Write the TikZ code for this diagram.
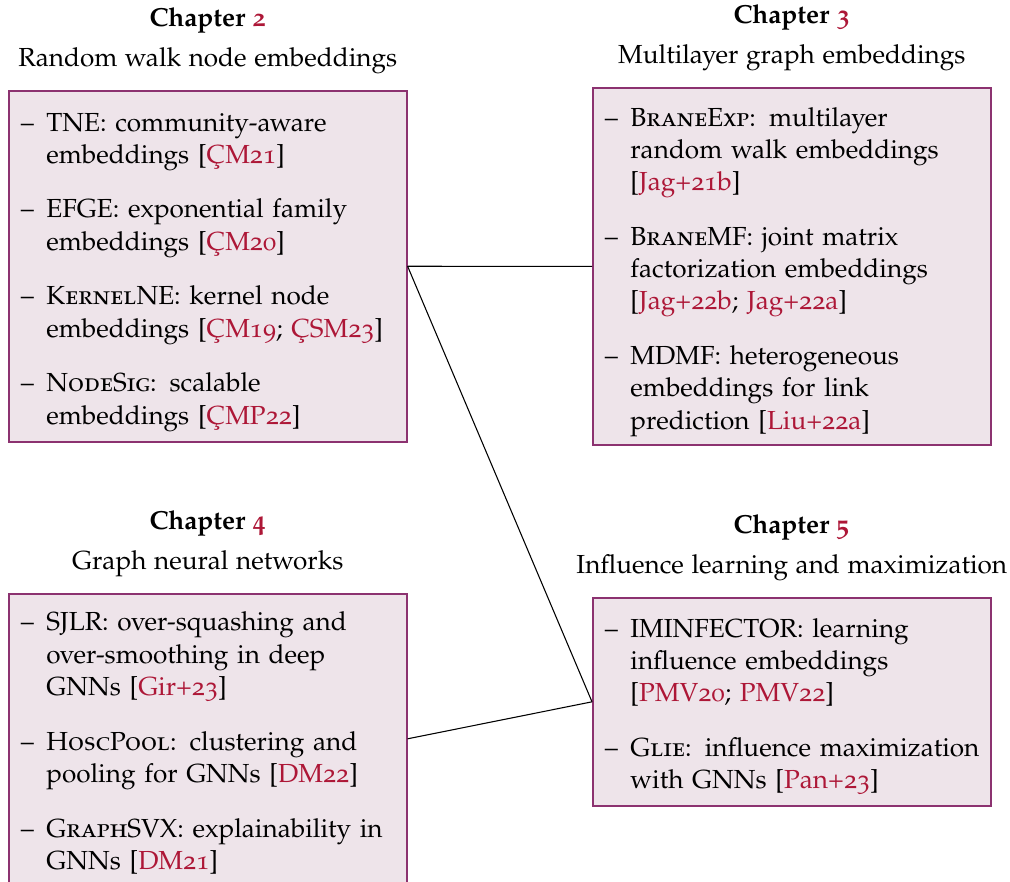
\documentclass[tikz,border=0pt]{standalone}
\usepackage[T1]{fontenc}
\usepackage[sc,osf]{mathpazo}
\usepackage{xcolor}
\usepackage{tikz}
\usetikzlibrary{positioning}
\definecolor{boxfill}{HTML}{EEE4EA}
\definecolor{boxline}{HTML}{8C3270}
\definecolor{citered}{HTML}{AD1737}
\newcommand{\chcite}[1]{\textcolor{citered}{#1}}
\newcommand{\chitem}[1]{\par\noindent\makebox[9.6pt][l]{--}\begin{tabular}[t]{@{}l@{}}#1\end{tabular}\par}
\newcommand{\itemgap}{\vspace{7.4pt}}

\begin{document}
\begin{tikzpicture}[
    x=0.375pt, y=-0.375pt,
    every node/.style={inner sep=0pt, font=\fontsize{9.8}{12.1}\selectfont},
    chbox/.style={
        draw=boxline,
        fill=boxfill,
        line width=0.6pt,
        anchor=north west,
        text width=140.25pt,
        align=left,
        inner xsep=4.5pt,
        minimum height=#1},
    chhead/.style={align=center, above=6pt of #1}]
    \useasboundingbox (0,0) rectangle (1010,881);

    \node[chbox=131.6pt] (ch2box) at (8,90) {
        \chitem{TNE: community-aware\\embeddings [\chcite{\c{C}M21}]}
        \itemgap
        \chitem{EFGE: exponential family\\embeddings [\chcite{\c{C}M20}]}
        \itemgap
        \chitem{\textsc{Kernel}NE: kernel node\\embeddings [\chcite{\c{C}M19}; \chcite{\c{C}SM23}]}
        \itemgap
        \chitem{\textsc{NodeSig}: scalable\\embeddings [\chcite{\c{C}MP22}]}};
    \node[chbox=133.9pt] (ch3box) at (592,87) {
        \chitem{\textsc{BraneExp}: multilayer\\random walk embeddings\\{}[\chcite{Jag+21b}]}
        \itemgap
        \chitem{\textsc{Brane}MF: joint matrix\\factorization embeddings\\{}[\chcite{Jag+22b}; \chcite{Jag+22a}]}
        \itemgap
        \chitem{MDMF: heterogeneous\\embeddings for link\\prediction [\chcite{Liu+22a}]}};
    \node[chbox=108.75pt] (ch4box) at (8,593) {
        \chitem{SJLR: over-squashing and\\over-smoothing in deep\\GNNs [\chcite{Gir+23}]}
        \itemgap
        \chitem{\textsc{HoscPool}: clustering and\\pooling for GNNs [\chcite{DM22}]}
        \itemgap
        \chitem{\textsc{Graph}SVX: explainability in\\GNNs [\chcite{DM21}]}};
    \node[chbox=78pt] (ch5box) at (592,597) {
        \chitem{IMINFECTOR: learning\\influence embeddings\\{}[\chcite{PMV20}; \chcite{PMV22}]}
        \itemgap
        \chitem{\textsc{Glie}: influence maximization\\with GNNs [\chcite{Pan+23}]}};

    \node[chhead=ch2box] (ch2head) {\textbf{Chapter \textcolor{citered}{2}}\\[2.6pt]Random walk node embeddings};
    \node[chhead=ch3box] (ch3head) {\textbf{Chapter \textcolor{citered}{3}}\\[2.6pt]Multilayer graph embeddings};
    \node[chhead=ch4box] (ch4head) {\textbf{Chapter \textcolor{citered}{4}}\\[2.6pt]Graph neural networks};
    \node[chhead=ch5box] (ch5head) {\textbf{Chapter \textcolor{citered}{5}}\\[2.6pt]Influence learning and maximization};

    \draw[line width=0.4pt] (ch2box.east) -- (ch3box.west);
    \draw[line width=0.4pt] (ch2box.east) -- (ch5box.west);
    \draw[line width=0.4pt] (ch4box.east) -- (ch5box.west);
\end{tikzpicture}
\end{document}
